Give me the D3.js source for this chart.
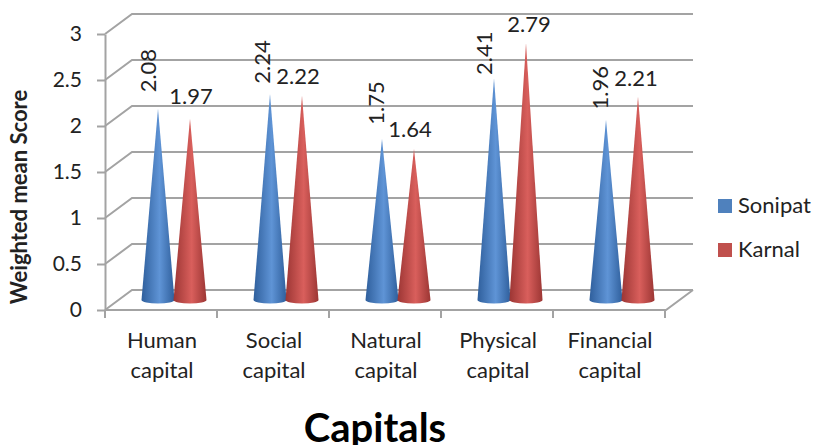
<!DOCTYPE html>
<html>
<head>
<meta charset="utf-8">
<script src="https://cdn.jsdelivr.net/npm/d3@7"></script>
<style>
body { margin: 0; background: #fff; }
text { font-family: Lato, "Open Sans", sans-serif; fill: #222; }
</style>
</head>
<body>
<svg id="chart" width="813" height="445"></svg>
<script>
const categories = ["Human capital", "Social capital", "Natural capital", "Physical capital", "Financial capital"];
const seriesNames = ["Sonipat", "Karnal"];
const sonipat = [2.08, 2.24, 1.75, 2.41, 1.96];
const karnal = [1.97, 2.22, 1.64, 2.79, 2.21];
const yTicks = [0, 0.5, 1, 1.5, 2, 2.5, 3];

// the value labels were dragged by hand in the original, so each has its own nudge
const sonipatNudge = [[-2, -41], [0, -35], [2, -39], [-2, -28], [2, -35]];
const karnalNudge = [[1, -18], [-4, -15], [-4, -15], [3, -14], [-2, -14]];

const svg = d3.select("#chart");
const colors = {Sonipat: ["#2f5f9c", "#5f94d6"], Karnal: ["#9c3634", "#d95f5c"]};
const gridColor = "#a3a3a3";

// front plane of the fake 3d box, back wall is shifted by depth
const plotLeft = 105, plotRight = 665, plotBottom = 310, plotTop = 34;
const depthX = 27, depthY = -20;

const x = d3.scaleBand().domain(categories).range([plotLeft, plotRight]);
const y = d3.scaleLinear().domain([0, 3]).range([plotBottom, plotTop]);
const series = d3.scaleBand().domain(seriesNames).range([37, 101]);

const defs = svg.append("defs");
seriesNames.forEach(name => {
    const g = defs.append("linearGradient").attr("id", "cone-" + name);
    g.append("stop").attr("offset", "0%").attr("stop-color", colors[name][0]);
    g.append("stop").attr("offset", "55%").attr("stop-color", colors[name][1]);
    g.append("stop").attr("offset", "100%").attr("stop-color", colors[name][0]);
});

// back wall gridlines + side wall
const grid = svg.append("g")
    .attr("fill", "none")
    .attr("stroke", gridColor)
    .attr("stroke-width", 2);

yTicks.forEach(t => {
    grid.append("path")
        .attr("d", d3.line()([
            [plotLeft, y(t)],
            [plotLeft + depthX, y(t) + depthY],
            [plotRight + depthX + 1, y(t) + depthY]
        ]));
});

grid.append("path")
    .attr("d", d3.line()([
        [plotLeft, plotBottom],
        [plotRight + 1, plotBottom],
        [plotRight + depthX + 1, plotBottom + depthY]
    ]));

// y axis
const yAxis = svg.append("g")
    .attr("transform", "translate(" + plotLeft + ",0)")
    .call(d3.axisLeft(y).tickValues(yTicks).tickFormat(d => String(d)).tickSize(8).tickSizeOuter(0).tickPadding(15));
yAxis.selectAll("path, line").attr("stroke", gridColor).attr("stroke-width", 2);
yAxis.selectAll("text").attr("font-size", 21).style("font-family", "Lato, 'Open Sans', sans-serif").attr("fill", "#222");

// x axis ticks sit on band edges
const xTicks = categories.map(c => x(c)).concat([plotRight]);
xTicks.forEach(t => {
    grid.append("line")
        .attr("x1", t).attr("x2", t)
        .attr("y1", plotBottom).attr("y2", plotBottom + 8);
});

const xLabels = svg.append("g");
categories.forEach(c => {
    const words = c.split(" ");
    words.forEach((w, i) => {
        xLabels.append("text")
            .attr("x", x(c) + x.bandwidth() / 2 + 1)
            .attr("y", 348 + i * 30)
            .attr("text-anchor", "middle")
            .attr("font-size", 22)
            .text(w);
    });
});

// cones
const baseY = plotBottom - 10;
const coneY = d3.scaleLinear().domain([0, 3]).range([plotBottom - 7, plotTop - 7]);
const coneRx = 16.5, coneRy = 3.5;

function coneX(c, name) {
    return x(c) + series(name) + series.bandwidth() / 2;
}

function conePath(cx, v) {
    const apex = coneY(v) - 3;
    return "M" + cx + "," + apex +
        "L" + (cx + coneRx) + "," + baseY +
        "A" + coneRx + "," + coneRy + " 0 0 1 " + (cx - coneRx) + "," + baseY + "Z";
}

const values = {Sonipat: sonipat, Karnal: karnal};
seriesNames.forEach(name => {
    svg.append("g").selectAll("path")
        .data(categories)
        .join("path")
        .attr("d", (c, i) => conePath(coneX(c, name), values[name][i]))
        .attr("fill", "url(#cone-" + name + ")");
});

// value labels, Sonipat ones are rotated
svg.append("g").selectAll("text")
    .data(categories)
    .join("text")
    .attr("transform", (c, i) => "translate(" + (coneX(c, "Sonipat") + sonipatNudge[i][0]) + "," + (coneY(sonipat[i]) + sonipatNudge[i][1]) + ") rotate(-90)")
    .attr("text-anchor", "middle")
    .attr("font-size", 22)
    .text((c, i) => sonipat[i].toFixed(2));

svg.append("g").selectAll("text")
    .data(categories)
    .join("text")
    .attr("x", (c, i) => coneX(c, "Karnal") + karnalNudge[i][0])
    .attr("y", (c, i) => coneY(karnal[i]) + karnalNudge[i][1])
    .attr("text-anchor", "middle")
    .attr("font-size", 22)
    .text((c, i) => karnal[i].toFixed(2));

// axis titles
svg.append("text")
    .attr("transform", "translate(27,197) rotate(-90)")
    .attr("text-anchor", "middle")
    .attr("font-size", 22)
    .attr("font-weight", "bold")
    .text("Weighted mean Score");

// descender is clipped by the picture edge in the reference too
svg.append("text")
    .attr("x", 375)
    .attr("y", 442)
    .attr("text-anchor", "middle")
    .attr("font-size", 40)
    .attr("font-weight", "bold")
    .style("fill", "#000")
    .text("Capitals");

// legend
const legend = svg.append("g").selectAll("g")
    .data(seriesNames)
    .join("g")
    .attr("transform", (d, i) => "translate(718," + (199 + i * 44) + ")");
legend.append("rect")
    .attr("width", 14).attr("height", 14)
    .attr("fill", d => d === "Sonipat" ? "#4f81bd" : "#c0504d");
legend.append("text")
    .attr("x", 20).attr("y", 14)
    .attr("font-size", 22)
    .text(d => d);
</script>
</body>
</html>
